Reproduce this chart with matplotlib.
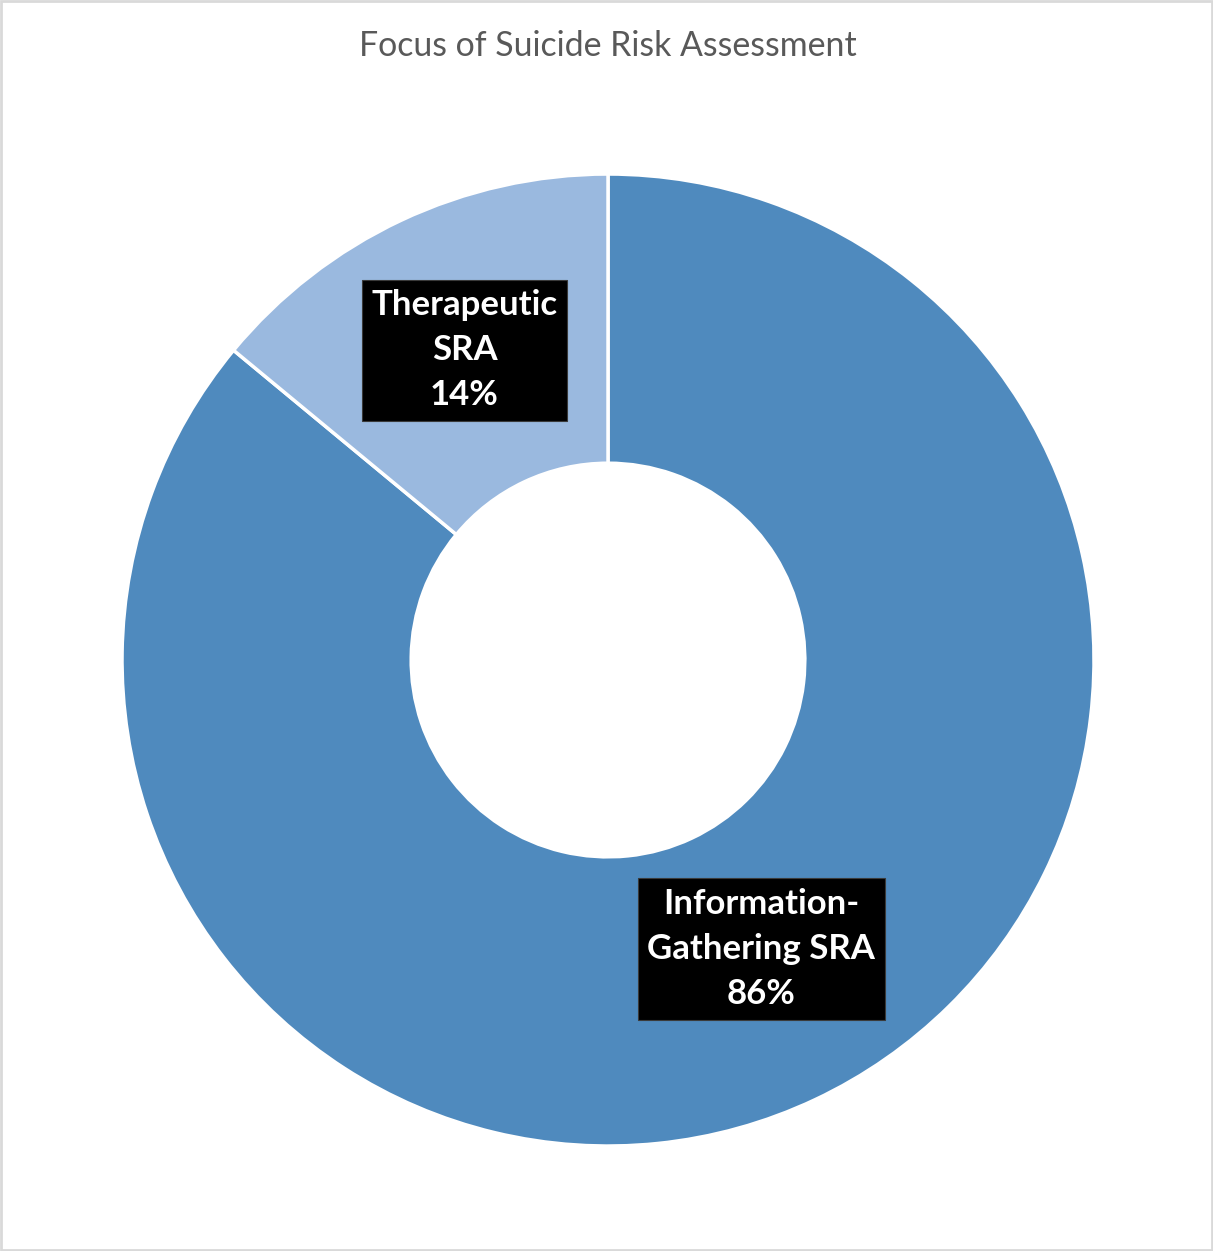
import numpy as np
import matplotlib.pyplot as plt
from matplotlib.patches import Rectangle

# Data
labels = ["Information-\nGathering SRA", "Therapeutic\nSRA"]
shares = [86, 14]
colors = ["#4F8ABE", "#9AB9DF"]
title = "Focus of Suicide Risk Assessment"

plt.rcParams['font.family'] = ['Lato', 'DejaVu Sans']

fig = plt.figure(figsize=(12.13, 12.51), dpi=100)
fig.patch.set_facecolor("white")

# light grey frame around the chart area
fig.patches.append(Rectangle((0.001, 0.001), 0.998, 0.998, transform=fig.transFigure,
                             fill=False, edgecolor="#D9D9D9", linewidth=2))

ax = fig.add_axes([0.1006, 0.0839, 0.8013, 0.777])
wedges, _ = ax.pie(shares, colors=colors, startangle=90, counterclock=False,
                   radius=1.0, wedgeprops=dict(width=0.595, edgecolor="white", linewidth=2.5))
ax.set_xlim(-1, 1)
ax.set_ylim(-1, 1)
ax.set_aspect("equal")
ax.axis("off")

# data labels in black boxes, anchored on each wedge's mid angle
label_radius = [0.675, 0.70]
label_nudge = [(9.7, 5.8), (1.0, 1.4)]  # points
for w, lab, val, r, nudge in zip(wedges, labels, shares, label_radius, label_nudge):
    ang = np.deg2rad((w.theta1 + w.theta2) / 2)
    ax.annotate(f"{lab}\n{val}%", xy=(r * np.cos(ang), r * np.sin(ang)),
                xytext=nudge, textcoords="offset points",
                ha="center", va="center", fontsize=25, fontweight="bold", color="white",
                linespacing=1.5,
                bbox=dict(boxstyle="square,pad=0.28", fc="black", ec="#3A3A3A", lw=0.8))

fig.text(0.5012, 0.963, title, ha="center", va="center", fontsize=24.4, color="#595959")

fig.savefig("out.png", dpi=100)
